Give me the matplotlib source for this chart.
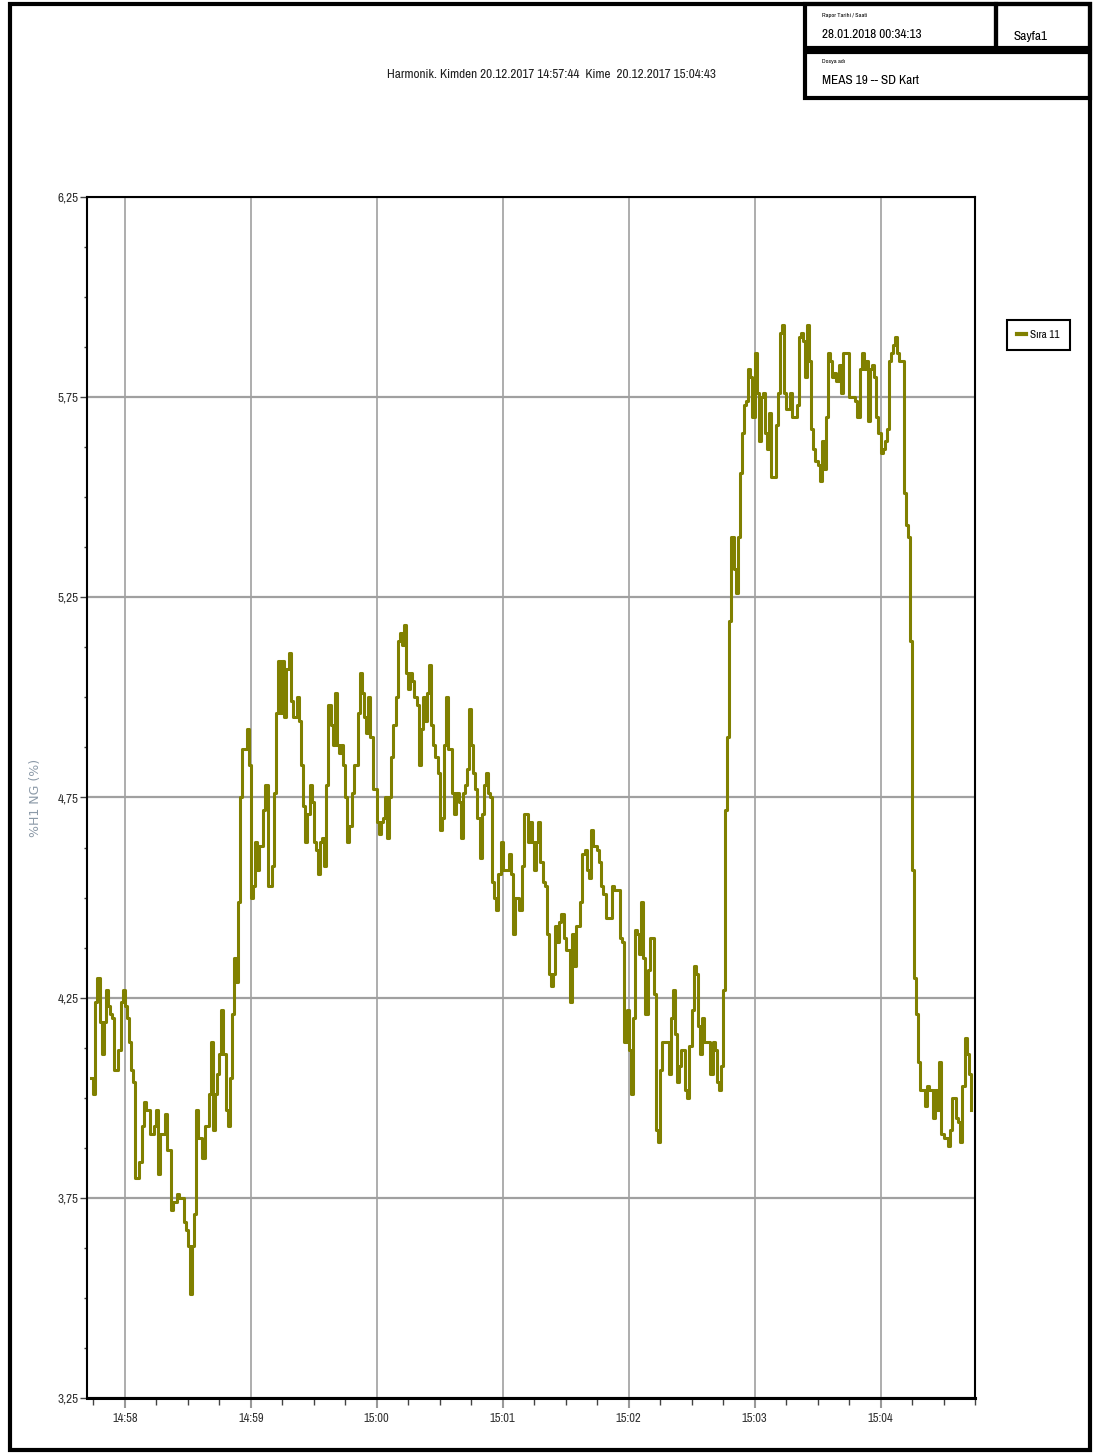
import matplotlib.pyplot as plt
from matplotlib.patches import Rectangle
from matplotlib.lines import Line2D
from matplotlib.ticker import FixedLocator, MultipleLocator

# seconds since 14:57:00 and %H1 NG values (step data)
sec = [44, 45, 46, 47, 48, 49, 50, 51, 52, 53, 54, 55, 57, 58, 59, 60, 61, 62, 63, 64,
       65, 67, 68, 69, 70, 72, 74, 75, 76, 77, 79, 80, 82, 83, 85, 86, 88, 89, 90, 91,
       92, 93, 94, 95, 97, 98, 100, 101, 102, 103, 104, 105, 106, 107, 108, 109, 110, 111, 112, 113,
       114, 115, 116, 118, 119, 120, 121, 122, 123, 124, 126, 127, 128, 130, 131, 132, 133, 134, 135, 136,
       137, 138, 139, 140, 142, 143, 144, 145, 146, 147, 148, 149, 150, 151, 152, 153, 154, 155, 156, 157,
       158, 159, 160, 161, 162, 163, 164, 165, 166, 167, 168, 169, 171, 172, 173, 174, 175, 176, 177, 178,
       180, 181, 182, 183, 184, 185, 186, 187, 188, 189, 190, 191, 192, 193, 194, 195, 196, 197, 198, 199,
       200, 201, 202, 203, 204, 205, 206, 207, 208, 209, 210, 211, 212, 213, 214, 215, 216, 217, 218, 219,
       220, 221, 222, 223, 224, 225, 226, 227, 228, 229, 230, 231, 232, 233, 234, 235, 236, 237, 238, 239,
       240, 242, 243, 244, 245, 246, 248, 249, 250, 252, 253, 254, 255, 256, 257, 258, 259, 260, 261, 262,
       263, 264, 265, 266, 267, 268, 269, 270, 271, 272, 273, 274, 275, 276, 277, 278, 279, 280, 281, 282,
       283, 285, 286, 287, 288, 289, 291, 292, 293, 295, 296, 297, 298, 299, 300, 301, 302, 303, 304, 305,
       306, 307, 308, 309, 310, 311, 312, 313, 314, 315, 316, 318, 319, 320, 321, 322, 323, 324, 325, 327,
       328, 329, 330, 331, 332, 333, 334, 335, 336, 338, 339, 340, 341, 342, 343, 344, 345, 346, 347, 348,
       349, 350, 351, 352, 353, 354, 355, 356, 357, 358, 359, 360, 361, 362, 363, 364, 365, 366, 367, 368,
       369, 370, 371, 372, 373, 374, 375, 376, 377, 378, 379, 380, 381, 382, 383, 384, 385, 386, 387, 388,
       389, 390, 391, 392, 393, 394, 395, 396, 397, 398, 399, 400, 401, 402, 404, 405, 407, 408, 409, 410,
       411, 412, 413, 414, 415, 416, 417, 418, 419, 420, 421, 422, 423, 424, 425, 426, 427, 428, 429, 430,
       431, 432, 433, 434, 435, 436, 437, 438, 439, 440, 441, 442, 443, 444, 445, 446, 447, 448, 449, 450,
       451, 452, 453, 454, 455, 456, 457, 458, 459, 460, 461, 462, 463]
h1 = [4.05, 4.01, 4.24, 4.30, 4.19, 4.11, 4.19, 4.27, 4.23, 4.21, 4.20, 4.07, 4.12, 4.24, 4.27, 4.23, 4.20, 4.14, 4.07, 4.04,
      3.80, 3.84, 3.93, 3.99, 3.97, 3.91, 3.93, 3.97, 3.81, 3.91, 3.96, 3.87, 3.72, 3.74, 3.76, 3.75, 3.69, 3.67, 3.63, 3.51,
      3.63, 3.71, 3.97, 3.90, 3.85, 3.93, 4.01, 4.14, 3.92, 4.01, 4.06, 4.11, 4.22, 4.11, 3.97, 3.93, 4.05, 4.21, 4.35, 4.29,
      4.49, 4.75, 4.87, 4.92, 4.83, 4.50, 4.53, 4.64, 4.57, 4.63, 4.72, 4.78, 4.53, 4.58, 4.76, 4.96, 5.09, 4.96, 5.09, 4.95,
      5.07, 5.11, 4.99, 4.95, 5.00, 4.94, 4.83, 4.73, 4.64, 4.71, 4.78, 4.74, 4.64, 4.62, 4.56, 4.64, 4.65, 4.58, 4.78, 4.98,
      4.93, 4.88, 5.01, 4.88, 4.86, 4.88, 4.83, 4.75, 4.64, 4.68, 4.76, 4.83, 4.96, 5.06, 5.01, 4.95, 4.91, 5.00, 4.90, 4.77,
      4.69, 4.66, 4.69, 4.70, 4.75, 4.65, 4.75, 4.85, 4.93, 5.00, 5.14, 5.16, 5.13, 5.18, 5.06, 5.02, 5.06, 5.04, 5.00, 4.98,
      4.83, 4.92, 5.00, 4.94, 5.01, 5.08, 4.93, 4.88, 4.85, 4.81, 4.67, 4.70, 4.88, 5.00, 4.87, 4.87, 4.76, 4.71, 4.76, 4.74,
      4.65, 4.76, 4.78, 4.82, 4.97, 4.88, 4.81, 4.77, 4.70, 4.60, 4.71, 4.78, 4.81, 4.76, 4.75, 4.54, 4.50, 4.47, 4.56, 4.64,
      4.57, 4.57, 4.61, 4.56, 4.41, 4.50, 4.47, 4.58, 4.71, 4.64, 4.69, 4.64, 4.57, 4.64, 4.69, 4.59, 4.54, 4.53, 4.41, 4.31,
      4.28, 4.31, 4.43, 4.39, 4.44, 4.46, 4.40, 4.37, 4.37, 4.24, 4.41, 4.33, 4.43, 4.43, 4.49, 4.61, 4.62, 4.57, 4.55, 4.67,
      4.63, 4.62, 4.59, 4.53, 4.51, 4.45, 4.45, 4.53, 4.52, 4.52, 4.40, 4.39, 4.14, 4.22, 4.12, 4.01, 4.20, 4.42, 4.41, 4.36,
      4.49, 4.35, 4.21, 4.32, 4.40, 4.40, 4.26, 3.92, 3.89, 4.07, 4.14, 4.14, 4.06, 4.20, 4.27, 4.16, 4.04, 4.08, 4.12, 4.02,
      4.00, 4.13, 4.22, 4.33, 4.31, 4.18, 4.11, 4.20, 4.14, 4.14, 4.06, 4.14, 4.12, 4.04, 4.02, 4.08, 4.27, 4.72, 4.90, 5.19,
      5.40, 5.32, 5.26, 5.40, 5.56, 5.66, 5.73, 5.74, 5.82, 5.80, 5.70, 5.86, 5.76, 5.64, 5.75, 5.76, 5.66, 5.62, 5.71, 5.55,
      5.55, 5.68, 5.76, 5.91, 5.93, 5.76, 5.72, 5.72, 5.76, 5.70, 5.70, 5.73, 5.90, 5.91, 5.89, 5.80, 5.93, 5.84, 5.67, 5.62,
      5.59, 5.58, 5.54, 5.64, 5.57, 5.70, 5.86, 5.84, 5.80, 5.81, 5.79, 5.83, 5.76, 5.86, 5.86, 5.75, 5.75, 5.74, 5.70, 5.82,
      5.86, 5.82, 5.84, 5.69, 5.82, 5.83, 5.80, 5.70, 5.66, 5.61, 5.62, 5.64, 5.67, 5.84, 5.86, 5.88, 5.90, 5.86, 5.84, 5.84,
      5.51, 5.43, 5.40, 5.14, 4.57, 4.30, 4.21, 4.09, 4.02, 4.02, 3.98, 4.03, 4.02, 4.02, 3.95, 4.02, 3.97, 4.09, 3.91, 3.90,
      3.90, 3.88, 3.92, 4.00, 4.00, 3.95, 3.94, 3.89, 4.03, 4.15, 4.11, 4.06, 3.97]

minute_ticks = [60, 120, 180, 240, 300, 360, 420]
minute_labels = ["14:58", "14:59", "15:00", "15:01", "15:02", "15:03", "15:04"]
y_ticks = [3.25, 3.75, 4.25, 4.75, 5.25, 5.75, 6.25]
y_labels = ["3,25", "3,75", "4,25", "4,75", "5,25", "5,75", "6,25"]

NARROW = ['Liberation Sans Narrow', 'Archivo Narrow', 'Roboto Condensed', 'DejaVu Sans']
OLIVE = '#808000'
W, H = 1094, 1455

fig = plt.figure(figsize=(W / 100, H / 100), dpi=100)

# page frame + header boxes, in pixel coords
page = fig.add_axes([0, 0, 1, 1])
page.set_xlim(0, W)
page.set_ylim(H, 0)
page.axis('off')
page.add_patch(Rectangle((10, 4), 1080, 1446, fill=False, ec='k', lw=3))
page.add_patch(Rectangle((805, 4), 191, 44, fill=False, ec='k', lw=3))
page.add_patch(Rectangle((996, 4), 94, 44, fill=False, ec='k', lw=3))
page.add_patch(Rectangle((805, 52), 285, 46, fill=False, ec='k', lw=3))
page.text(822, 16, "Rapor Tarihi / Saati", fontsize=4.5, family=NARROW, va='center')
page.text(822, 35, "28.01.2018 00:34:13", fontsize=9.5, family=NARROW, va='center')
page.text(1014, 36, "Sayfa1", fontsize=9.5, family=NARROW, va='center')
page.text(822, 62, "Dosya adı", fontsize=4.5, family=NARROW, va='center')
page.text(822, 80, "MEAS 19 -- SD Kart", fontsize=9.5, family=NARROW, va='center')
page.text(551, 75, "Harmonik. Kimden 20.12.2017 14:57:44  Kime  20.12.2017 15:04:43",
          fontsize=9.5, family=NARROW, ha='center', va='center', color='#222222')

ax = fig.add_axes([87 / W, 1 - 1398 / H, (975 - 87) / W, (1398 - 197) / H])
ax.step(sec, h1, where='post', color=OLIVE, lw=2.2, zorder=3)

ax.set_xlim(42, 465)
ax.set_ylim(3.25, 6.25)
ax.xaxis.set_major_locator(FixedLocator(minute_ticks))
ax.set_xticklabels(minute_labels, family=NARROW, fontsize=9, color='#333333')
ax.xaxis.set_minor_locator(MultipleLocator(15))
ax.yaxis.set_major_locator(FixedLocator(y_ticks))
ax.set_yticklabels(y_labels, family=NARROW, fontsize=9.5, color='#333333')
ax.yaxis.set_minor_locator(MultipleLocator(0.125))

ax.tick_params(axis='x', which='major', length=7, width=1.5, color='#999999', pad=4)
ax.tick_params(axis='x', which='minor', length=5, width=1, color='#444444')
ax.tick_params(axis='y', which='major', length=5, width=1, color='#444444', pad=1)
ax.tick_params(axis='y', which='minor', length=2, width=1, color='#444444')

ax.grid(axis='y', which='major', color='#a0a0a0', lw=1.6)
ax.grid(axis='x', which='major', color='#a0a0a0', lw=1.2)
for s in ax.spines.values():
    s.set_linewidth(1.5)
    s.set_zorder(4)
ax.spines['bottom'].set_linewidth(2.2)

ax.set_ylabel("%H1 NG (%)", fontsize=9, family='DejaVu Sans', color='#8c9aa8', labelpad=11)

leg = fig.legend([Line2D([], [], color=OLIVE, lw=3)], ["Sıra 11"],
                 loc='upper left', bbox_to_anchor=(1007 / W, 1 - 320 / H),
                 prop={'family': NARROW, 'size': 8}, fancybox=False, framealpha=1,
                 edgecolor='k', handlelength=0.8, handletextpad=0.4, borderpad=0.9,
                 borderaxespad=0)
leg.get_frame().set_linewidth(1.5)

fig.savefig('out.png', dpi=100)
